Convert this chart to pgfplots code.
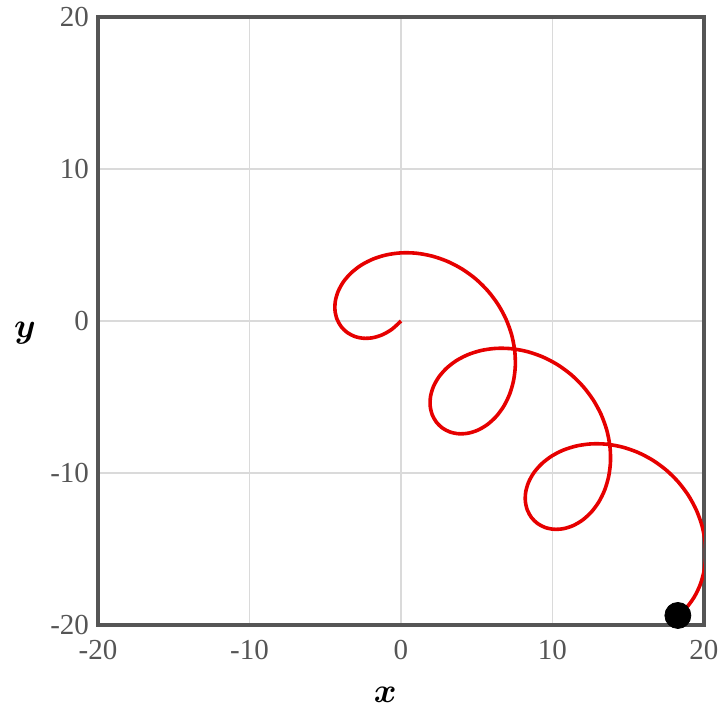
\documentclass[border=0pt]{standalone}
\usepackage{fontspec}
\setmainfont{Liberation Serif}
\usepackage{amsmath}
\usepackage{bm}
\usepackage{pgfplots}
\pgfplotsset{compat=1.18}
\definecolor{framegray}{HTML}{555555}
\definecolor{tickgray}{HTML}{555555}
\definecolor{gridgray}{HTML}{DADADA}
\definecolor{curvered}{HTML}{E60000}
\begin{document}
\begin{tikzpicture}
\begin{axis}[
  at={(0,0)}, anchor=south west,
  scale only axis, width=303pt, height=304pt,
  xmin=-20, xmax=20, ymin=-20, ymax=20,
  xtick={-20,-10,0,10,20}, ytick={-20,-10,0,10,20},
  grid=major, grid style={draw=gridgray, line width=0.6pt},
  axis line style={draw=framegray, line width=1.6pt},
  tick style={draw=none},
  /pgf/number format/assume math mode=true,
  ticklabel style={font=\fontsize{14.5}{16}\selectfont, text=tickgray},
  xticklabel style={yshift=-4pt},
  yticklabel style={xshift=-1pt},
  xlabel={$\bm{x}$}, ylabel={$\bm{y}$},
  label style={font=\fontsize{18}{20}\selectfont},
  xlabel style={at={(axis description cs:0.474,0)}, anchor=center, yshift=-35pt},
  ylabel style={at={(axis description cs:0,0.48)}, anchor=center, rotate=-90, xshift=-36.5pt},
]
\addplot[curvered, line width=1.8pt, smooth] coordinates {
(0,0) (-0.574,-0.524) (-1.197,-0.892) (-1.838,-1.096) (-2.464,-1.137)
(-3.044,-1.021) (-3.548,-0.760) (-3.950,-0.369) (-4.225,0.125) (-4.357,0.699)
(-4.332,1.323) (-4.143,1.963) (-3.792,2.589) (-3.282,3.169) (-2.629,3.673)
(-1.846,4.075) (-0.958,4.350) (0.008,4.482) (1.024,4.457) (2.058,4.268)
(3.076,3.917) (4.049,3.408) (4.946,2.754) (5.740,1.971) (6.408,1.084)
(6.933,0.117) (7.300,-0.899) (7.504,-1.932) (7.546,-2.951) (7.429,-3.924)
(7.168,-4.820) (6.778,-5.615)
(6.283,-6.283) (5.709,-6.807) (5.086,-7.175) (4.445,-7.379) (3.819,-7.420)
(3.239,-7.304) (2.735,-7.043) (2.333,-6.652) (2.058,-6.158) (1.926,-5.584)
(1.951,-4.960) (2.140,-4.320) (2.491,-3.694) (3.001,-3.114) (3.654,-2.610)
(4.437,-2.208) (5.325,-1.933) (6.291,-1.801) (7.307,-1.826) (8.341,-2.015)
(9.359,-2.366) (10.332,-2.875) (11.229,-3.529) (12.023,-4.312) (12.691,-5.199)
(13.216,-6.166) (13.583,-7.182) (13.787,-8.215) (13.829,-9.234) (13.712,-10.207)
(13.451,-11.103) (13.061,-11.898)
(12.566,-12.566) (11.992,-13.090) (11.369,-13.458) (10.728,-13.662) (10.102,-13.703)
(9.522,-13.587) (9.018,-13.326) (8.616,-12.935) (8.341,-12.441) (8.209,-11.867)
(8.234,-11.243) (8.423,-10.603) (8.774,-9.977) (9.284,-9.397) (9.937,-8.893)
(10.720,-8.491) (11.608,-8.216) (12.574,-8.084) (13.590,-8.109) (14.624,-8.298)
(15.642,-8.649) (16.615,-9.158) (17.512,-9.812) (18.306,-10.595) (18.974,-11.482)
(19.499,-12.449) (19.866,-13.465) (20.070,-14.498) (20.112,-15.517) (19.995,-16.490)
(19.734,-17.386) (19.344,-18.181) (18.850,-18.850) (18.276,-19.374)
};
\addplot[only marks, mark=*, mark size=6.5pt, black] coordinates {(18.276,-19.374)};
\end{axis}
\pgfresetboundingbox
\path[use as bounding box] (-49pt,-42.5pt) rectangle (310.5pt,312.5pt);
\end{tikzpicture}
\end{document}
